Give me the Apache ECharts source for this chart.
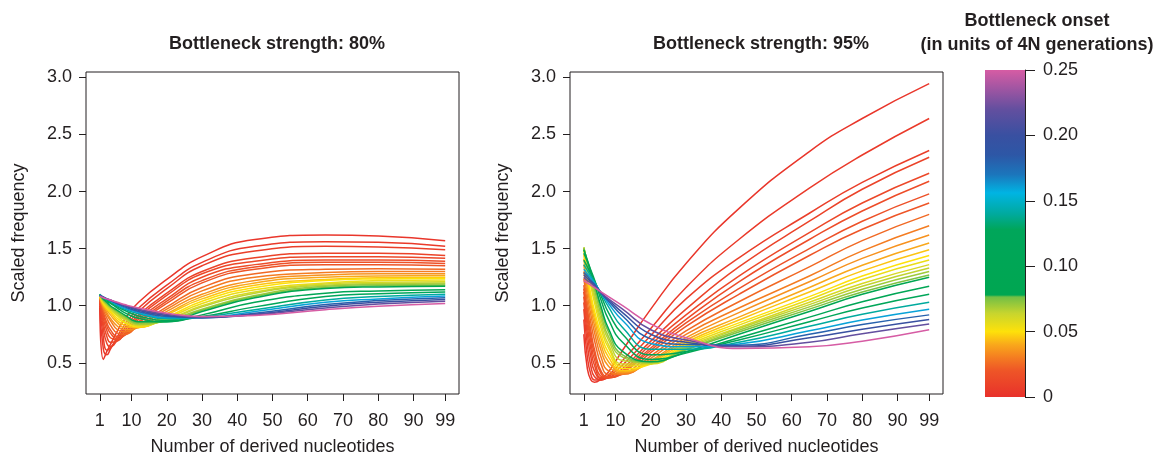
<!DOCTYPE html>
<html>
<head>
<meta charset="utf-8">
<script src="https://cdn.jsdelivr.net/npm/echarts@6/dist/echarts.min.js"></script>
<style>
  html, body { margin: 0; background: #fff; }
  #main { width: 1157px; height: 461px; }
</style>
</head>
<body>
<div id="main"></div>
<script>
(function (echarts) {
  'use strict';

  var nucleotides = [1, 2, 3, 4, 6, 8, 12, 20, 30, 45, 65, 80, 99];

  // bottleneck onset of each curve (units of 4N generations)
  var onsets = [0.0025, 0.005, 0.0075, 0.01, 0.0125, 0.015, 0.0175, 0.02, 0.025, 0.03,
    0.035, 0.04, 0.045, 0.05, 0.055, 0.06, 0.065, 0.07, 0.075, 0.08,
    0.10, 0.12, 0.14, 0.16, 0.18, 0.20, 0.22, 0.25];

  // scaled frequency, bottleneck strength 80% (one row per onset)
  var strength80 = [
    [0.98, 0.53, 0.60, 0.66, 0.78, 0.88, 1.03, 1.23, 1.43, 1.58, 1.62, 1.61, 1.57],
    [1.00, 0.62, 0.57, 0.62, 0.73, 0.83, 0.98, 1.18, 1.38, 1.52, 1.56, 1.555, 1.52],
    [1.02, 0.72, 0.61, 0.63, 0.71, 0.80, 0.95, 1.15, 1.35, 1.48, 1.52, 1.515, 1.49],
    [1.03, 0.80, 0.67, 0.64, 0.70, 0.78, 0.92, 1.11, 1.30, 1.42, 1.46, 1.46, 1.44],
    [1.04, 0.85, 0.73, 0.68, 0.69, 0.76, 0.90, 1.09, 1.28, 1.39, 1.43, 1.43, 1.415],
    [1.05, 0.89, 0.78, 0.72, 0.70, 0.75, 0.88, 1.06, 1.25, 1.36, 1.40, 1.40, 1.39],
    [1.05, 0.92, 0.82, 0.76, 0.71, 0.74, 0.86, 1.04, 1.22, 1.34, 1.38, 1.38, 1.37],
    [1.06, 0.94, 0.85, 0.79, 0.73, 0.74, 0.85, 1.02, 1.20, 1.32, 1.36, 1.36, 1.35],
    [1.06, 0.96, 0.89, 0.83, 0.76, 0.75, 0.83, 0.99, 1.16, 1.28, 1.32, 1.325, 1.32],
    [1.07, 0.98, 0.92, 0.87, 0.79, 0.77, 0.82, 0.97, 1.13, 1.25, 1.29, 1.30, 1.30],
    [1.07, 0.99, 0.94, 0.89, 0.82, 0.79, 0.81, 0.95, 1.10, 1.22, 1.27, 1.28, 1.28],
    [1.07, 1.00, 0.96, 0.92, 0.85, 0.81, 0.81, 0.93, 1.08, 1.20, 1.25, 1.26, 1.265],
    [1.08, 1.01, 0.97, 0.94, 0.87, 0.83, 0.81, 0.92, 1.06, 1.18, 1.23, 1.245, 1.25],
    [1.08, 1.02, 0.98, 0.95, 0.89, 0.85, 0.815, 0.90, 1.04, 1.16, 1.22, 1.235, 1.24],
    [1.08, 1.03, 0.99, 0.96, 0.91, 0.86, 0.82, 0.89, 1.02, 1.14, 1.20, 1.22, 1.225],
    [1.09, 1.04, 1.00, 0.97, 0.92, 0.88, 0.83, 0.88, 1.00, 1.12, 1.19, 1.205, 1.21],
    [1.09, 1.04, 1.01, 0.98, 0.93, 0.89, 0.835, 0.875, 0.99, 1.11, 1.18, 1.195, 1.20],
    [1.09, 1.05, 1.02, 0.99, 0.94, 0.90, 0.84, 0.87, 0.97, 1.09, 1.17, 1.185, 1.19],
    [1.10, 1.05, 1.02, 0.99, 0.95, 0.91, 0.85, 0.865, 0.96, 1.08, 1.16, 1.175, 1.18],
    [1.10, 1.06, 1.03, 1.00, 0.96, 0.92, 0.86, 0.86, 0.95, 1.07, 1.15, 1.165, 1.17],
    [1.10, 1.06, 1.04, 1.02, 0.98, 0.94, 0.89, 0.86, 0.92, 1.03, 1.11, 1.13, 1.14],
    [1.10, 1.07, 1.05, 1.03, 0.99, 0.96, 0.91, 0.87, 0.905, 0.99, 1.08, 1.105, 1.12],
    [1.095, 1.07, 1.055, 1.04, 1.00, 0.97, 0.93, 0.885, 0.90, 0.965, 1.05, 1.08, 1.10],
    [1.095, 1.075, 1.06, 1.04, 1.01, 0.98, 0.94, 0.895, 0.895, 0.95, 1.03, 1.06, 1.085],
    [1.09, 1.075, 1.06, 1.045, 1.02, 0.99, 0.95, 0.905, 0.895, 0.935, 1.01, 1.045, 1.07],
    [1.09, 1.075, 1.06, 1.05, 1.02, 1.00, 0.96, 0.915, 0.895, 0.925, 0.995, 1.03, 1.055],
    [1.085, 1.075, 1.06, 1.05, 1.025, 1.005, 0.97, 0.925, 0.90, 0.92, 0.98, 1.015, 1.04],
    [1.085, 1.07, 1.06, 1.05, 1.03, 1.01, 0.98, 0.935, 0.905, 0.915, 0.965, 0.995, 1.02]
  ];

  // scaled frequency, bottleneck strength 95%
  var strength95 = [
    [0.75, 0.45, 0.35, 0.33, 0.36, 0.42, 0.61, 0.97, 1.37, 1.85, 2.35, 2.64, 2.945],
    [0.88, 0.55, 0.40, 0.35, 0.35, 0.39, 0.52, 0.80, 1.16, 1.58, 2.03, 2.32, 2.64],
    [0.97, 0.66, 0.47, 0.38, 0.35, 0.38, 0.48, 0.74, 1.06, 1.42, 1.81, 2.08, 2.36],
    [1.03, 0.75, 0.55, 0.43, 0.36, 0.37, 0.45, 0.69, 0.97, 1.34, 1.74, 2.02, 2.30],
    [1.08, 0.82, 0.62, 0.48, 0.37, 0.37, 0.43, 0.66, 0.92, 1.26, 1.64, 1.90, 2.16],
    [1.12, 0.88, 0.68, 0.53, 0.38, 0.37, 0.42, 0.63, 0.88, 1.21, 1.58, 1.83, 2.09],
    [1.15, 0.93, 0.73, 0.58, 0.40, 0.37, 0.41, 0.61, 0.85, 1.15, 1.50, 1.74, 1.98],
    [1.18, 0.97, 0.78, 0.62, 0.42, 0.38, 0.40, 0.59, 0.82, 1.10, 1.44, 1.67, 1.90],
    [1.24, 1.03, 0.85, 0.70, 0.48, 0.40, 0.40, 0.56, 0.78, 1.035, 1.34, 1.57, 1.80],
    [1.30, 1.09, 0.92, 0.77, 0.54, 0.43, 0.40, 0.54, 0.75, 0.98, 1.26, 1.48, 1.70],
    [1.36, 1.15, 0.98, 0.83, 0.60, 0.47, 0.41, 0.52, 0.72, 0.94, 1.21, 1.415, 1.62],
    [1.41, 1.20, 1.02, 0.88, 0.65, 0.51, 0.42, 0.51, 0.70, 0.90, 1.16, 1.355, 1.55],
    [1.45, 1.24, 1.06, 0.92, 0.70, 0.55, 0.43, 0.50, 0.68, 0.875, 1.12, 1.305, 1.49],
    [1.49, 1.27, 1.10, 0.96, 0.74, 0.59, 0.45, 0.49, 0.665, 0.85, 1.08, 1.26, 1.44],
    [1.50, 1.33, 1.17, 1.03, 0.79, 0.63, 0.47, 0.49, 0.65, 0.83, 1.055, 1.23, 1.40],
    [1.51, 1.35, 1.20, 1.07, 0.83, 0.66, 0.49, 0.49, 0.64, 0.81, 1.03, 1.195, 1.36],
    [1.51, 1.37, 1.23, 1.10, 0.87, 0.70, 0.52, 0.50, 0.63, 0.80, 1.01, 1.17, 1.33],
    [1.51, 1.38, 1.26, 1.14, 0.91, 0.73, 0.55, 0.50, 0.62, 0.785, 0.99, 1.145, 1.30],
    [1.50, 1.39, 1.28, 1.17, 0.95, 0.77, 0.57, 0.51, 0.615, 0.77, 0.97, 1.12, 1.27],
    [1.49, 1.40, 1.30, 1.20, 0.98, 0.80, 0.60, 0.51, 0.595, 0.75, 0.95, 1.10, 1.25],
    [1.46, 1.39, 1.31, 1.23, 1.04, 0.88, 0.68, 0.53, 0.585, 0.72, 0.90, 1.035, 1.17],
    [1.40, 1.34, 1.28, 1.22, 1.08, 0.94, 0.75, 0.57, 0.60, 0.70, 0.86, 0.98, 1.10],
    [1.36, 1.31, 1.26, 1.21, 1.10, 0.99, 0.81, 0.62, 0.62, 0.68, 0.82, 0.925, 1.03],
    [1.32, 1.28, 1.24, 1.20, 1.11, 1.02, 0.87, 0.67, 0.64, 0.665, 0.78, 0.875, 0.97],
    [1.29, 1.26, 1.22, 1.19, 1.11, 1.04, 0.91, 0.71, 0.66, 0.655, 0.75, 0.835, 0.92],
    [1.27, 1.24, 1.21, 1.18, 1.11, 1.05, 0.94, 0.75, 0.68, 0.645, 0.72, 0.795, 0.88],
    [1.25, 1.22, 1.20, 1.17, 1.11, 1.06, 0.97, 0.79, 0.70, 0.64, 0.68, 0.755, 0.84],
    [1.22, 1.20, 1.18, 1.16, 1.12, 1.08, 1.00, 0.84, 0.72, 0.625, 0.64, 0.69, 0.79]
  ];

  var xTicks = [1, 10, 20, 30, 40, 50, 60, 70, 80, 90, 99];
  var yTicks = [0.5, 1.0, 1.5, 2.0, 2.5, 3.0];

  // colour scale of the onset legend, [onset, colour]
  var onsetScale = [
    [0, '#e8312b'], [0.02, '#ee5527'], [0.03, '#f47c21'], [0.04, '#f9a81b'],
    [0.05, '#fee10a'], [0.064, '#c7d52e'], [0.0765, '#72bf45'], [0.078, '#00a651'],
    [0.128, '#00a65a'], [0.14, '#00aa9e'], [0.156, '#00b4e3'], [0.17, '#1b76bc'],
    [0.185, '#2d57a6'], [0.20, '#3950a1'], [0.22, '#634f9f'], [0.235, '#9d55a2'],
    [0.25, '#d65ca4']
  ];

  var ink = '#231f20';
  var font = '"Liberation Sans", Arial, sans-serif';

  function splitColor(text) {
    var v = parseInt(text.substring(1), 16);
    return [(v >> 16) & 255, (v >> 8) & 255, v & 255];
  }

  function onsetColor(t) {
    for (var i = 1; i < onsetScale.length; i++) {
      if (t <= onsetScale[i][0]) {
        var lo = onsetScale[i - 1], hi = onsetScale[i];
        var p = (t - lo[0]) / (hi[0] - lo[0]);
        var a = splitColor(lo[1]), b = splitColor(hi[1]);
        return 'rgb(' + a.map(function (c, k) { return Math.round(c + (b[k] - c) * p); }).join(',') + ')';
      }
    }
    return onsetScale[onsetScale.length - 1][1];
  }

  function curves(rows, idx) {
    return rows.map(function (row, i) {
      return {
        type: 'line',
        xAxisIndex: idx,
        yAxisIndex: idx,
        data: row.map(function (v, j) { return [nucleotides[j], v]; }),
        smooth: 0.5,
        symbol: 'none',
        silent: true,
        lineStyle: {width: 1.5, color: onsetColor(onsets[i])}
      };
    });
  }

  function xAxis(idx) {
    return {
      type: 'value', gridIndex: idx, min: -2.92, max: 102.92,
      name: 'Number of derived nucleotides', nameLocation: 'middle', nameGap: 44,
      nameTextStyle: {fontSize: 18, color: ink, fontFamily: font},
      axisLine: {show: false, onZero: false},
      axisTick: {show: true, length: 7, customValues: xTicks, lineStyle: {color: ink}},
      axisLabel: {customValues: xTicks, margin: 18, fontSize: 18, color: ink, fontFamily: font},
      splitLine: {show: false}
    };
  }

  function yAxis(idx) {
    return {
      type: 'value', gridIndex: idx, min: 0.227, max: 3.047,
      name: 'Scaled frequency', nameLocation: 'middle', nameGap: 58,
      nameTextStyle: {fontSize: 18, color: ink, fontFamily: font},
      axisLine: {show: false, onZero: false},
      axisTick: {show: true, length: 7, customValues: yTicks, lineStyle: {color: ink}},
      axisLabel: {
        customValues: yTicks, margin: 14, fontSize: 18, color: ink, fontFamily: font,
        formatter: function (v) { return v.toFixed(1); }
      },
      splitLine: {show: false}
    };
  }

  var gradient = new echarts.graphic.LinearGradient(0, 1, 0, 0, onsetScale.map(function (s) {
    return {offset: s[0] / 0.25, color: s[1]};
  }));

  var titleStyle = {fontSize: 18, fontWeight: 'bold', color: ink, fontFamily: font};

  echarts.init(document.getElementById('main')).setOption({
    animation: false,
    backgroundColor: '#fff',
    title: [
      {text: 'Bottleneck strength: 80%', left: 272, top: 30, textAlign: 'center', textStyle: titleStyle},
      {text: 'Bottleneck strength: 95%', left: 756, top: 30, textAlign: 'center', textStyle: titleStyle},
      {text: 'Bottleneck onset\n(in units of 4N generations)', left: 1032, top: 4, textAlign: 'center',
        textStyle: Object.assign({lineHeight: 24}, titleStyle)}
    ],
    grid: [
      {left: 86, top: 72, width: 373, height: 325, show: true, borderColor: ink, borderWidth: 1},
      {left: 570, top: 72, width: 373, height: 325, show: true, borderColor: ink, borderWidth: 1},
      {left: 985, top: 70, width: 40, height: 327, show: false}
    ],
    xAxis: [
      xAxis(0),
      xAxis(1),
      {type: 'category', gridIndex: 2, data: ['onset'], show: false}
    ],
    yAxis: [
      yAxis(0),
      yAxis(1),
      {
        type: 'value', gridIndex: 2, position: 'right', min: 0, max: 0.25, interval: 0.05,
        axisLine: {show: true, lineStyle: {color: ink}},
        axisTick: {show: true, length: 10, lineStyle: {color: ink}},
        axisLabel: {
          margin: 18, fontSize: 18, color: ink, fontFamily: font,
          formatter: function (v) { return v === 0 ? '0' : v.toFixed(2); }
        },
        splitLine: {show: false}
      }
    ],
    series: curves(strength80, 0).concat(curves(strength95, 1)).concat([{
      type: 'bar',
      xAxisIndex: 2,
      yAxisIndex: 2,
      data: [0.25],
      barWidth: '100%',
      silent: true,
      itemStyle: {color: gradient}
    }])
  });
})(window.echarts);
</script>
</body>
</html>
